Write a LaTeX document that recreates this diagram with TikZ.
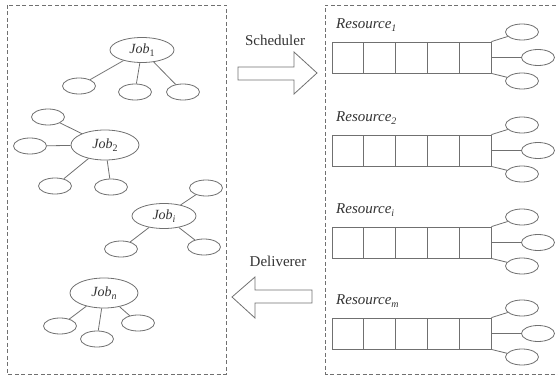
\documentclass[tikz,border=0pt]{standalone}
\usepackage{fontspec}
\setmainfont{Liberation Serif}
\usetikzlibrary{shapes.geometric}
\newcommand\lowsub[1]{\raisebox{-0.45ex}{\fontsize{10}{10}\selectfont #1}}
\definecolor{ln}{HTML}{707070}
\definecolor{tx}{HTML}{333333}
\tikzset{
  frame/.style={draw=ln, line width=0.8pt, dash pattern=on 4pt off 2.5pt},
  jobnode/.style={ellipse, draw=ln, line width=0.8pt, inner sep=0pt, text=tx, font=\fontsize{14}{16}\selectfont},
  jobsmall/.style={jobnode, minimum width=64pt, minimum height=25pt},
  jobbig/.style={jobnode, minimum width=68pt, minimum height=30pt},
  leaf/.style={ellipse, draw=ln, line width=0.8pt, inner sep=0pt, minimum width=33pt, minimum height=16pt},
  cell/.style={rectangle, draw=ln, line width=0.8pt, inner sep=0pt, minimum width=31.8pt, minimum height=31pt},
  link/.style={draw=ln, line width=0.8pt},
  blockarrow/.style={draw=ln, line width=0.8pt, line join=miter},
  lbl/.style={text=tx, font=\fontsize{15}{17}\selectfont, inner sep=0pt},
  reslbl/.style={lbl, anchor=west, font=\fontsize{15}{17}\selectfont\itshape}
}
\begin{document}
\begin{tikzpicture}[x=1pt,y=-1pt]
\useasboundingbox (0,0) rectangle (558,377);
% frames
\draw[frame] (7,5) rectangle (226,374);
\draw[frame] (562,5) -- (325,5) -- (325,374) -- (562,374);

% Job 1
\node[jobsmall] (j1) at (142,50) {\textit{Job}\lowsub{1}};
\node[leaf] (j1a) at (79,86) {};
\node[leaf] (j1b) at (135,92) {};
\node[leaf] (j1c) at (183,92) {};
\foreach \c in {j1a,j1b,j1c} \draw[link] (j1) -- (\c);

% Job 2
\node[jobbig] (j2) at (105,145) {\textit{Job}\lowsub{2}};
\node[leaf] (j2a) at (48,117) {};
\node[leaf] (j2b) at (30,146) {};
\node[leaf] (j2c) at (55,186) {};
\node[leaf] (j2d) at (111,187) {};
\foreach \c in {j2a,j2b,j2c,j2d} \draw[link] (j2) -- (\c);

% Job i
\node[jobsmall] (ji) at (164,216) {\textit{Job}\lowsub{\textit{i}}};
\node[leaf] (jia) at (206,188) {};
\node[leaf] (jib) at (121,249) {};
\node[leaf] (jic) at (204,247) {};
\foreach \c in {jia,jib,jic} \draw[link] (ji) -- (\c);

% Job n
\node[jobbig] (jn) at (104,293) {\textit{Job}\lowsub{\textit{n}}};
\node[leaf] (jna) at (60,326) {};
\node[leaf] (jnb) at (97,339) {};
\node[leaf] (jnc) at (138,323) {};
\foreach \c in {jna,jnb,jnc} \draw[link] (jn) -- (\c);

% Scheduler arrow
\node[lbl] (sched) at (275,40) {Scheduler};
\draw[blockarrow] (238,67) -- (294,67) -- (294,52) -- (317,73) -- (294,94) -- (294,80) -- (238,80) -- cycle;

% Deliverer arrow
\node[lbl] (deliv) at (278,261) {Deliverer};
\draw[blockarrow] (312,290) -- (255,290) -- (255,277) -- (232,297) -- (255,318) -- (255,303) -- (312,303) -- cycle;

% Resource queues
\foreach \q/\top/\sub in {1/42/1, 2/135/2, 3/227/\textit{i}, 4/318/\textit{m}}{
  \node[reslbl] (rl\q) at (336,\top-17) {Resource\lowsub{\sub}};
  \foreach \k in {1,...,5}{
    \node[cell] (q\q c\k) at ({332+31.8*(\k-1)+15.9},{\top+15.5}) {};
  }
  \node[leaf] (o\q a) at (522,\top-10) {};
  \node[leaf] (o\q b) at (538,\top+15.5) {};
  \node[leaf] (o\q c) at (522,\top+39) {};
  \draw[link] (q\q c5.north east) -- (o\q a);
  \draw[link] (q\q c5.east) -- (o\q b);
  \draw[link] (q\q c5.south east) -- (o\q c);
}
\end{tikzpicture}
\end{document}
